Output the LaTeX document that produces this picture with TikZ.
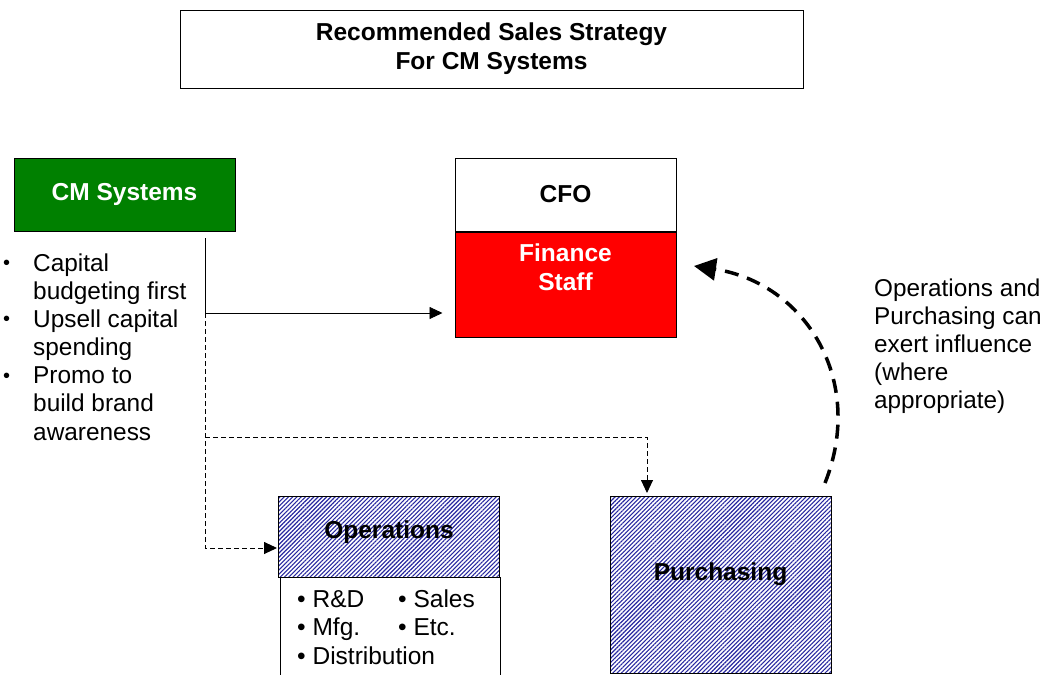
\documentclass[tikz,border=0pt]{standalone}
\usepackage{fontspec}
\setmainfont{Liberation Sans}
\usetikzlibrary{patterns.meta,arrows.meta}
\definecolor{cmgreen}{RGB}{0,128,0}
\definecolor{finred}{RGB}{255,0,0}
\definecolor{hatch}{RGB}{40,40,160}
\newcommand\mysmallbul{\raisebox{1.6pt}{\fontsize{20}{20}\selectfont•}}
\tikzset{
  box/.style={draw=black, line width=1pt, minimum width=221pt, inner sep=0pt},
  hatched/.style={box, pattern={Lines[angle=45,distance=3pt,line width=1.1pt]}, pattern color=hatch},
  boldfont/.style={font=\fontsize{24.5}{29}\selectfont\bfseries},
  txt/.style={anchor=base west, inner sep=0pt},
  conn/.style={line width=0.9pt},
  thindash/.style={conn, dash pattern=on 5pt off 3pt},
  tip/.style={-{Triangle[length=13pt,width=12pt]}},
}
\begin{document}
\begin{tikzpicture}[x=1pt,y=-1pt]
\useasboundingbox (0,0) rectangle (1052,675);
% title
\node[box, minimum width=623pt, minimum height=78pt, align=center, boldfont] (title) at (491.5,49)
  {Recommended Sales Strategy\\For CM Systems};
% CM Systems
\node[box, fill=cmgreen, minimum height=73pt, text=white, boldfont] (cm) at (124.5,194.5) {CM Systems};
% CFO / Finance staff
\node[box, minimum height=73pt, boldfont] (cfo) at (565.5,194.5) {CFO};
\node[box, fill=finred, minimum height=105pt, anchor=north] (fin) at (cfo.south) {};
\node[text=white, align=center, boldfont, inner sep=0pt] (fintxt) at (565.5,267) {Finance\\Staff};
% bullets left
\node[txt, font=\fontsize{24.4}{28.17}\selectfont] (list) at (3,271)
  {\begin{tabular}[t]{@{}l@{}l@{}}
   \makebox[30pt][l]{\mysmallbul} & Capital\\
    & budgeting first\\
   \makebox[30pt][l]{\mysmallbul} & Upsell capital\\
    & spending\\
   \makebox[30pt][l]{\mysmallbul} & Promo to\\
    & build brand\\
    & awareness
   \end{tabular}};
% Operations
\node[hatched, minimum height=81pt, anchor=north west] (ops) at (278,496) {};
\node[boldfont, inner sep=0pt] (opstxt) at (389,532) {Operations};
\draw[line width=1pt] (280,577) -- (500,577);
\draw[line width=1pt] (280,577) -- (280,675) (500,577) -- (500,675);
\node[txt, font=\fontsize{24.5}{28.5}\selectfont] (olist) at (297,607)
  {\begin{tabular}[t]{@{}l@{}l@{}}
   \makebox[101pt][l]{• R\&D} & • Sales\\
   \makebox[101pt][l]{• Mfg.} & • Etc.\\
   \multicolumn{2}{@{}l@{}}{• Distribution}
   \end{tabular}};
% Purchasing
\node[hatched, minimum height=177pt, anchor=north west] (pur) at (610,496) {};
\node[boldfont, inner sep=0pt] (purtxt) at (720.5,574) {Purchasing};
% right note
\node[txt, font=\fontsize{24.3}{28}\selectfont] (note) at (874,296)
  {\begin{tabular}[t]{@{}l@{}}
   Operations and\\Purchasing can\\exert influence\\(where\\appropriate)
   \end{tabular}};
% connectors
\coordinate (j0) at (205,238);
\coordinate (j1) at (205,313);
\coordinate (j2) at (205,437);
\coordinate (jo) at (205,548);
\coordinate (jp) at (647,437);
\draw[conn, tip, shorten >=12pt] (j0) -- (j1) -- (j1 -| fin.west);
\draw[thindash, tip, shorten >=1pt] (j1) -- (jo) -- (jo -| ops.west);
\draw[thindash, tip, shorten >=3pt] (j2) -- (jp) -- (jp |- pur.north);
\coordinate (c0) at (825,483);
\coordinate (c1) at (694,266);
\draw[line width=3.5pt, dash pattern=on 14pt off 9pt, -{Triangle[length=22pt,width=22pt]}]
  (c0) .. controls (866,380) and (805,283) .. (c1);
\end{tikzpicture}
\end{document}
